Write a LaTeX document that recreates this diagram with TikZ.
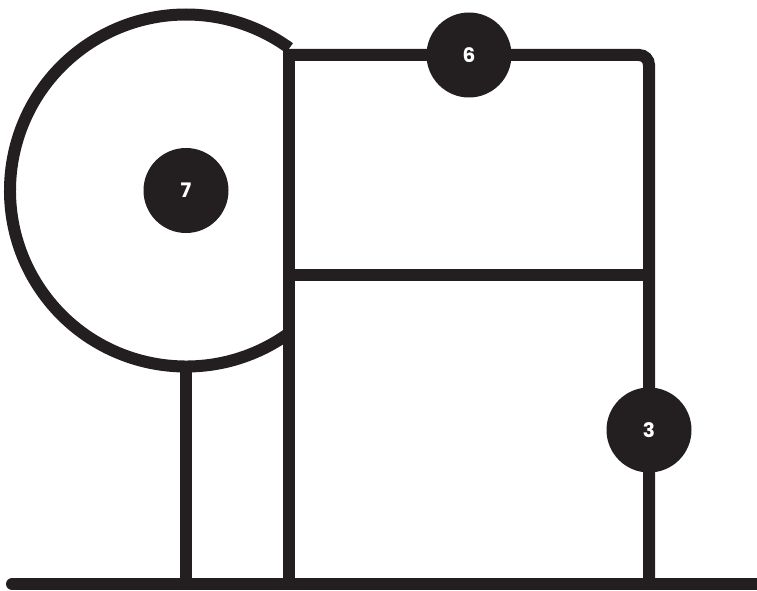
\documentclass[tikz,border=0pt]{standalone}
\usepackage{fontspec}
\setsansfont{Poppins}
\usetikzlibrary{positioning,calc}
\definecolor{FrameBlack}{HTML}{231F20}
\definecolor{FrameWhite}{HTML}{ffffff}
\tikzset{
    % Thick outline strokes
    frame line/.style={
        draw=FrameBlack,
        line width=12pt
    },
    frame ground/.style={
        frame line,
        line cap=round
    },
    % Numbered discs
    badge/.style={
        circle,
        fill=FrameBlack,
        text=FrameWhite,
        minimum size=85pt,
        inner sep=0pt,
        font=\sffamily\bfseries\fontsize{20}{20}\selectfont
    }
}

\begin{document}
\begin{tikzpicture}[x=1pt, y=-1pt]
        \useasboundingbox (0,0) rectangle (757,591);

        % Key points
        \coordinate (wheel) at (186,190.5);
        \coordinate (top left) at (289,55);
        \coordinate (top right) at (649,55);
        \coordinate (mid left) at (289,275);
        \coordinate (mid right) at (649,275);
        \coordinate (ground west) at (12,584);
        \coordinate (ground east) at (765,584);

        % Ground
        \draw[frame ground] (ground west) -- (ground east);

        % Box
        \draw[frame line] (top left |- ground west) -- ($(top left)+(0,-6)$);
        \draw[frame line, rounded corners=10pt] (top left)
              -- (top right) -- (top right |- ground west);
        \draw[frame line] (mid left) -- (mid right);

        % Wheel and its post
        \draw[frame line] (wheel) ++(54:176) arc[start angle=54, end angle=306, radius=176];
        \draw[frame line] ($(wheel)+(0,176)$) -- (wheel |- ground west);

        % Numbers
        \node[badge] (badge6) at ($(top left)!0.5!(top right)$) {6};
        \node[badge] (badge7) at (wheel) {7};
        \node[badge] (badge3) at (649,430) {3};
    \end{tikzpicture}
\end{document}
